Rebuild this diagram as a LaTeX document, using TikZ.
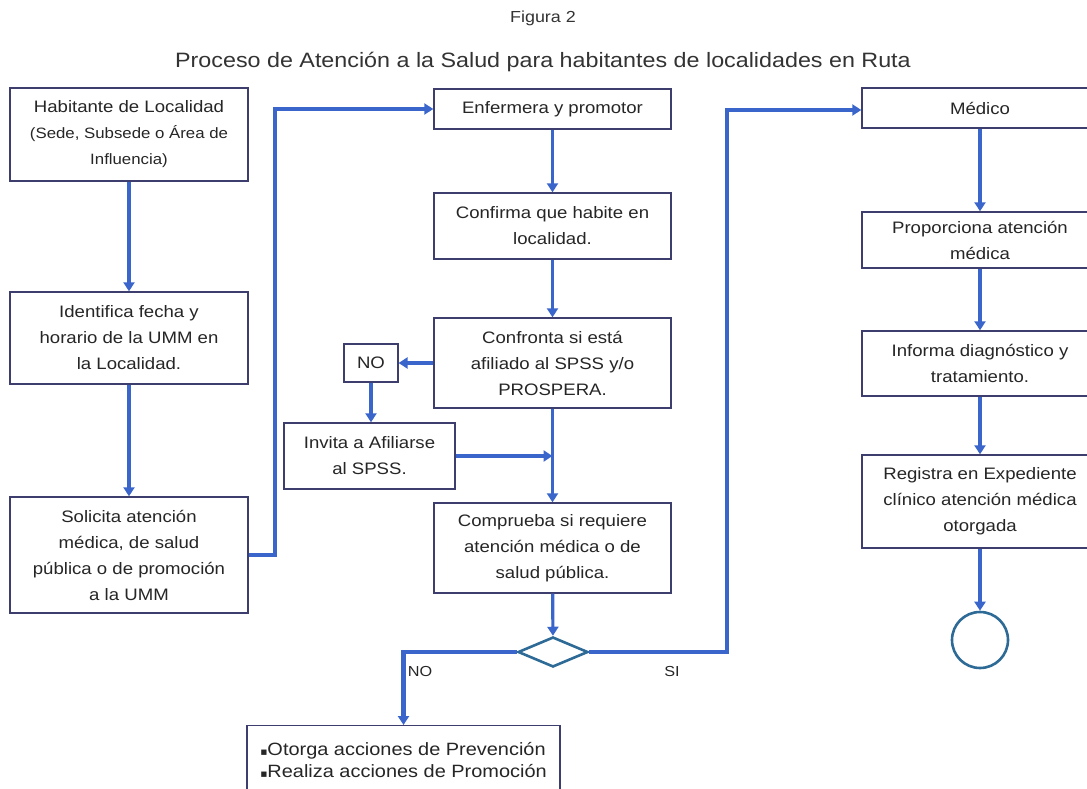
\documentclass[tikz,border=0pt]{standalone}
\usepackage{fontspec}
\setmainfont[FakeStretch=1.12]{Liberation Sans}
\newfontfamily\symfont{DejaVu Sans}
\usetikzlibrary{arrows.meta,shapes.geometric}
\definecolor{linkblue}{HTML}{3A66CC}
\definecolor{boxline}{HTML}{3E3E6E}
\definecolor{steel}{HTML}{2E6A96}
\begin{document}
\begin{tikzpicture}[x=1pt,y=-1pt,
    box/.style={draw=boxline,line width=1.4pt,fill=white,align=center,inner sep=2pt,
      text=black!85,font=\fontsize{16.6}{26}\selectfont},
    link/.style={draw=linkblue,line width=3.2pt,-{Triangle[length=9pt,width=11pt]}},
    mainlink/.style={link,line width=4.2pt}]
    \useasboundingbox (0,0) rectangle (1087,789);
    \clip (0,0) rectangle (1087,789);

    % titulos
    \node[text=black!80,font=\fontsize{16}{20}\selectfont] (fig) at (543,18) {Figura 2};
    \node[text=black!80,font=\fontsize{20.8}{22}\selectfont] (tit) at (543,62)
        {Proceso de Atención a la Salud para habitantes de localidades en Ruta};

    % columna izquierda
    \node[box,minimum width=238,minimum height=93] (hab) at (129,134.5)
        {Habitante de Localidad\\{\fontsize{15}{26}\selectfont (Sede, Subsede o Área de}\\{\fontsize{15}{26}\selectfont Influencia)}};
    \node[box,minimum width=238,minimum height=92] (ident) at (129,338)
        {Identifica fecha y\\horario de la UMM en\\la Localidad.};
    \node[box,minimum width=238,minimum height=116] (solic) at (129,555)
        {Solicita atención\\médica, de salud\\pública o de promoción\\a la UMM};

    % columna central
    \node[box,minimum width=237,minimum height=40] (enf) at (552.5,109) {Enfermera y promotor};
    \node[box,minimum width=237,minimum height=66] (conf) at (552.5,226)
        {Confirma que habite en\\localidad.};
    \node[box,minimum width=237,minimum height=90] (afil) at (552.5,363)
        {Confronta si está\\afiliado al SPSS y/o\\PROSPERA.};
    \node[box,minimum width=54,minimum height=38,line width=1.2pt,inner sep=0pt] (no) at (371,363) {NO};
    \node[box,minimum width=171,minimum height=66] (invita) at (369.5,456)
        {Invita a Afiliarse\\al SPSS.};
    \node[box,minimum width=237,minimum height=90] (compr) at (552.5,548)
        {Comprueba si requiere\\atención médica o de\\salud pública.};
    \node[diamond,draw=steel,line width=2.6pt,minimum width=70,minimum height=30,inner sep=0pt] (dec) at (553,652) {};
    \node[box,anchor=north,minimum width=313,minimum height=68,align=left,
        font=\fontsize{17.8}{22}\selectfont] (acc) at (403.5,725)
        {{\symfont\scalebox{0.6}{▪}}Otorga acciones de Prevención\\{\symfont\scalebox{0.6}{▪}}Realiza acciones de Promoción};

    % columna derecha
    \node[box,minimum width=236,minimum height=40] (med) at (980,108) {Médico};
    \node[box,minimum width=236,minimum height=56] (prop) at (980,240)
        {Proporciona atención\\médica};
    \node[box,minimum width=236,minimum height=65] (diag) at (980,363.5)
        {Informa diagnóstico y\\tratamiento.};
    \node[box,minimum width=236,minimum height=93] (reg) at (980,501.5)
        {Registra en Expediente\\clínico atención médica\\otorgada};
    \node[circle,draw=steel,line width=2.6pt,minimum size=56,inner sep=0pt] (fin) at (980,640) {};

    \node[text=black!85,font=\fontsize{14.5}{16}\selectfont] (lno) at (420,672) {NO};
    \node[text=black!85,font=\fontsize{14.5}{16}\selectfont] (lsi) at (672,672) {SI};

    % conectores
    \draw[link] (hab) -- (ident);
    \draw[link] (ident) -- (solic);
    \coordinate (up) at (275,109);
    \draw[mainlink] (solic.east) -| (up) -- (enf.west);
    \draw[link] (enf) -- (conf);
    \draw[link] (conf) -- (afil);
    \draw[link] (afil.west) -- (no.east);
    \draw[link] (no) -- (invita.north -| no.south);
    \draw[link] (afil) -- (compr);
    \coordinate (join) at (afil.south |- invita.east);
    \draw[link] (invita.east) -- (join);
    \draw[link] (compr) -- (dec);
    \draw[mainlink] (dec.west) -| (acc.north);
    \coordinate (siturn) at (727,110);
    \draw[mainlink] (dec.east) -| (siturn) -- (siturn -| med.west);
    \draw[link] (med) -- (prop);
    \draw[link] (prop) -- (diag);
    \draw[link] (diag) -- (reg);
    \draw[link] (reg) -- (fin);
\end{tikzpicture}
\end{document}
